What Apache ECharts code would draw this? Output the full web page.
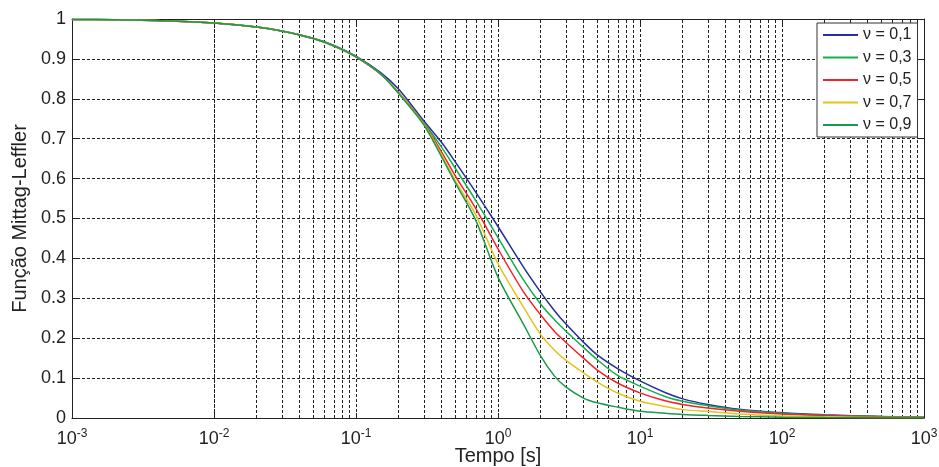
<!DOCTYPE html>
<html>
<head>
<meta charset="utf-8">
<script src="https://cdn.jsdelivr.net/npm/echarts@6/dist/echarts.min.js"></script>
<style>
html,body{margin:0;padding:0;background:#fff;}
#chart{width:939px;height:467px;}
</style>
</head>
<body>
<div id="chart"></div>
<script>
// ---- data ----
const tempo = [0.001, 0.002, 0.005, 0.01, 0.02, 0.03, 0.05, 0.07, 0.1, 0.15, 0.2, 0.3, 0.4, 0.5, 0.7, 1, 1.5, 2, 2.5, 3, 4, 5, 7, 10, 15, 20, 30, 50, 100, 200, 500, 1000];
const nu01 = [0.999, 0.998, 0.995, 0.99, 0.98, 0.97, 0.952, 0.934, 0.907, 0.865, 0.824, 0.745, 0.691, 0.642, 0.565, 0.48, 0.38, 0.315, 0.269, 0.236, 0.19, 0.158, 0.123, 0.093, 0.064, 0.048, 0.034, 0.022, 0.013, 0.008, 0.004, 0.002];
const nu03 = [0.999, 0.998, 0.995, 0.99, 0.98, 0.97, 0.951, 0.933, 0.905, 0.862, 0.815, 0.74, 0.679, 0.626, 0.544, 0.452, 0.348, 0.285, 0.246, 0.218, 0.177, 0.146, 0.106, 0.08, 0.054, 0.042, 0.031, 0.02, 0.012, 0.007, 0.004, 0.002];
const nu05 = [0.999, 0.998, 0.995, 0.99, 0.98, 0.97, 0.951, 0.932, 0.905, 0.861, 0.815, 0.738, 0.667, 0.607, 0.524, 0.424, 0.318, 0.258, 0.217, 0.19, 0.15, 0.12, 0.087, 0.063, 0.043, 0.034, 0.025, 0.017, 0.01, 0.006, 0.003, 0.002];
const nu07 = [0.999, 0.998, 0.995, 0.99, 0.98, 0.97, 0.951, 0.932, 0.905, 0.861, 0.814, 0.737, 0.66, 0.595, 0.508, 0.387, 0.28, 0.209, 0.17, 0.145, 0.113, 0.09, 0.062, 0.042, 0.029, 0.021, 0.016, 0.01, 0.005, 0.003, 0.0015, 0.001];
const nu09 = [0.999, 0.998, 0.995, 0.99, 0.98, 0.97, 0.951, 0.932, 0.905, 0.861, 0.813, 0.735, 0.655, 0.59, 0.494, 0.353, 0.237, 0.155, 0.105, 0.078, 0.05, 0.038, 0.027, 0.017, 0.012, 0.009, 0.0065, 0.004, 0.002, 0.001, 0.0007, 0.0005];
const seriesNames = ['\u03bd = 0,1', '\u03bd = 0,3', '\u03bd = 0,5', '\u03bd = 0,7', '\u03bd = 0,9'];
const seriesValues = [nu01, nu03, nu05, nu07, nu09];
const seriesColors = ['#25309a', '#14ad4f', '#f0242c', '#e3c31c', '#1b9a4c'];
const yTicks = [0, 0.1, 0.2, 0.3, 0.4, 0.5, 0.6, 0.7, 0.8, 0.9, 1];
const decades = [0.001, 0.01, 0.1, 1, 10, 100];
const minorMult = [2, 3, 4, 5, 6, 7, 8, 9];

// ---- chart ----
const FONT = "'Liberation Sans', Arial, sans-serif";
const chart = echarts.init(document.getElementById('chart'), null, {renderer: 'canvas'});

const minorVals = [];
decades.forEach(d => minorMult.forEach(m => minorVals.push(d * m)));

const dashStyle = {color: '#222', width: 1, type: [3, 2]};

function expLabel(v) {
  const e = Math.round(Math.log10(v));
  return '{b|10}{s|' + e + '}';
}

const series = seriesNames.map((name, i) => ({
  name: name,
  type: 'line',
  data: tempo.map((t, k) => [t, seriesValues[i][k]]),
  smooth: 0.3,
  symbol: 'none',
  showSymbol: false,
  z: 5,
  lineStyle: {color: seriesColors[i], width: 1.5},
  itemStyle: {color: seriesColors[i]}
}));

series.unshift({
  name: 'grid',
  type: 'line',
  data: [],
  silent: true,
  z: 1,
  markLine: {
    silent: true,
    symbol: 'none',
    animation: false,
    label: {show: false},
    lineStyle: dashStyle,
    data: minorVals.map(v => ({xAxis: v}))
  }
});

const option = {
  animation: false,
  backgroundColor: '#fff',
  textStyle: {fontFamily: FONT},
  grid: {left: 72, right: 15, top: 19, bottom: 49, containLabel: false, outerBoundsMode: 'none'},
  legend: {
    data: seriesNames,
    orient: 'vertical',
    left: 817,
    top: 23,
    padding: [4, 6, 4, 6],
    icon: 'path://M0,6H35V8H0Z',
    itemWidth: 35,
    itemHeight: 14,
    itemGap: 6.5,
    backgroundColor: '#fff',
    borderColor: '#333',
    borderWidth: 1,
    borderRadius: 0,
    z: 10,
    textStyle: {fontFamily: FONT, fontSize: 16, color: '#222'}
  },
  xAxis: [{
    type: 'log',
    logBase: 10,
    min: 0.001,
    max: 1000,
    name: 'Tempo [s]',
    nameLocation: 'middle',
    nameGap: 28,
    nameMoveOverlap: false,
    nameTextStyle: {fontFamily: FONT, fontSize: 20, color: '#222'},
    axisLine: {show: true, onZero: false, lineStyle: {color: '#222', width: 1}},
    axisTick: {show: true, inside: true, length: 5, lineStyle: {color: '#222'}},
    splitLine: {show: true, lineStyle: dashStyle},
    minorTick: {show: false},
    minorSplitLine: {show: false},
    axisLabel: {
      formatter: expLabel,
      margin: 10,
      rich: {
        b: {fontFamily: FONT, fontSize: 18, color: '#222', verticalAlign: 'bottom', lineHeight: 20},
        s: {fontFamily: FONT, fontSize: 12, color: '#222', verticalAlign: 'top', padding: [0, 0, 10, 0], lineHeight: 20}
      }
    }
  }, {
    type: 'log',
    logBase: 10,
    min: 0.001,
    max: 1000,
    position: 'top',
    axisLine: {show: true, onZero: false, lineStyle: {color: '#222', width: 1}},
    axisTick: {show: true, inside: true, length: 5, lineStyle: {color: '#222'}},
    axisLabel: {show: false},
    splitLine: {show: false}
  }],
  yAxis: [{
    type: 'value',
    min: 0,
    max: 1,
    interval: 0.1,
    name: 'Fun\u00e7\u00e3o Mittag-Leffler',
    nameLocation: 'middle',
    nameGap: 42,
    nameMoveOverlap: false,
    nameTextStyle: {fontFamily: FONT, fontSize: 20, color: '#222'},
    axisLine: {show: true, onZero: false, lineStyle: {color: '#222', width: 1}},
    axisTick: {show: true, inside: true, length: 5, lineStyle: {color: '#222'}},
    splitLine: {show: true, lineStyle: dashStyle},
    axisLabel: {fontFamily: FONT, fontSize: 18, color: '#222', margin: 6,
      formatter: v => {
        const r = Math.round(v * 10) / 10;
        return yTicks.indexOf(r) >= 0 ? String(r) : '';
      }}
  }, {
    type: 'value',
    min: 0,
    max: 1,
    interval: 0.1,
    position: 'right',
    axisLine: {show: true, onZero: false, lineStyle: {color: '#222', width: 1}},
    axisTick: {show: true, inside: true, length: 5, lineStyle: {color: '#222'}},
    axisLabel: {show: false},
    splitLine: {show: false}
  }],
  series: series
};

chart.setOption(option);
</script>
</body>
</html>
